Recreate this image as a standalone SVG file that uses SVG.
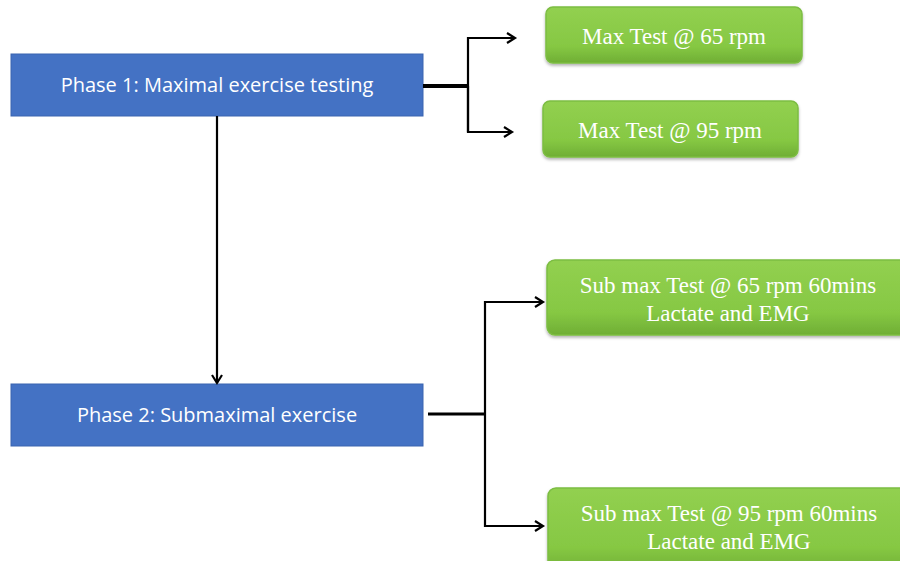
<svg xmlns="http://www.w3.org/2000/svg" width="900" height="561" viewBox="0 0 900 561">
<defs>
<linearGradient id="g" x1="0" y1="0" x2="0" y2="1">
<stop offset="0" stop-color="#92d050"/>
<stop offset="0.7" stop-color="#86c843"/>
<stop offset="1" stop-color="#6fae35"/>
</linearGradient>
<filter id="sh" x="-5%" y="-10%" width="110%" height="130%">
<feDropShadow dx="0" dy="2" stdDeviation="1.5" flood-color="#000" flood-opacity="0.3"/>
</filter>
<marker id="ah" markerWidth="14" markerHeight="14" refX="11" refY="7" orient="auto" markerUnits="userSpaceOnUse">
<path d="M3,2 L11,7 L3,12" fill="none" stroke="#000" stroke-width="2.2"/>
</marker>
</defs>
<style>
.phase rect{fill:#4472c4;stroke:#3a64b0;stroke-width:1}
.phase text{fill:#fff;font-family:"Open Sans","Liberation Sans",sans-serif;font-size:20px;text-anchor:middle}
.test rect{fill:url(#g);stroke:#7cbd42;stroke-width:1.5;filter:url(#sh)}
.test text{fill:#fff;font-family:"Liberation Serif",serif;font-size:23px;text-anchor:middle}
.c{fill:none;stroke:#000;stroke-width:2.2}
</style>
<g id="phase1" class="phase">
<rect x="11" y="54" width="412" height="62"/>
<text x="217" y="92">Phase 1: Maximal exercise testing</text>
</g>
<g id="phase2" class="phase">
<rect x="11" y="384" width="412" height="62"/>
<text x="217" y="422">Phase 2: Submaximal exercise</text>
</g>
<g id="max65" class="test">
<rect x="546" y="7" width="256" height="56" rx="7"/>
<text x="674" y="44">Max Test @ 65 rpm</text>
</g>
<g id="max95" class="test">
<rect x="543" y="101" width="255" height="56" rx="7"/>
<text x="670" y="138">Max Test @ 95 rpm</text>
</g>
<g id="sub65" class="test">
<rect x="547" y="260" width="370" height="75" rx="8"/>
<text x="728" y="293">Sub max Test @ 65 rpm 60mins</text>
<text x="728" y="321">Lactate and EMG</text>
</g>
<g id="sub95" class="test">
<rect x="548" y="488" width="370" height="85" rx="8"/>
<text x="729" y="521">Sub max Test @ 95 rpm 60mins</text>
<text x="729" y="549">Lactate and EMG</text>
</g>
<g id="connectors">
<path d="M423,86 H468" stroke="#000" stroke-width="4" fill="none"/>
<path class="c" d="M468,132 V38 H515" marker-end="url(#ah)"/>
<path class="c" d="M468,86 V132 H512" marker-end="url(#ah)"/>
<path class="c" d="M217,116 V383" marker-end="url(#ah)"/>
<path d="M428,414 H485" stroke="#000" stroke-width="3" fill="none"/>
<path class="c" d="M485,414 V302 H543" marker-end="url(#ah)"/>
<path class="c" d="M485,414 V526 H543" marker-end="url(#ah)"/>
</g>
</svg>
